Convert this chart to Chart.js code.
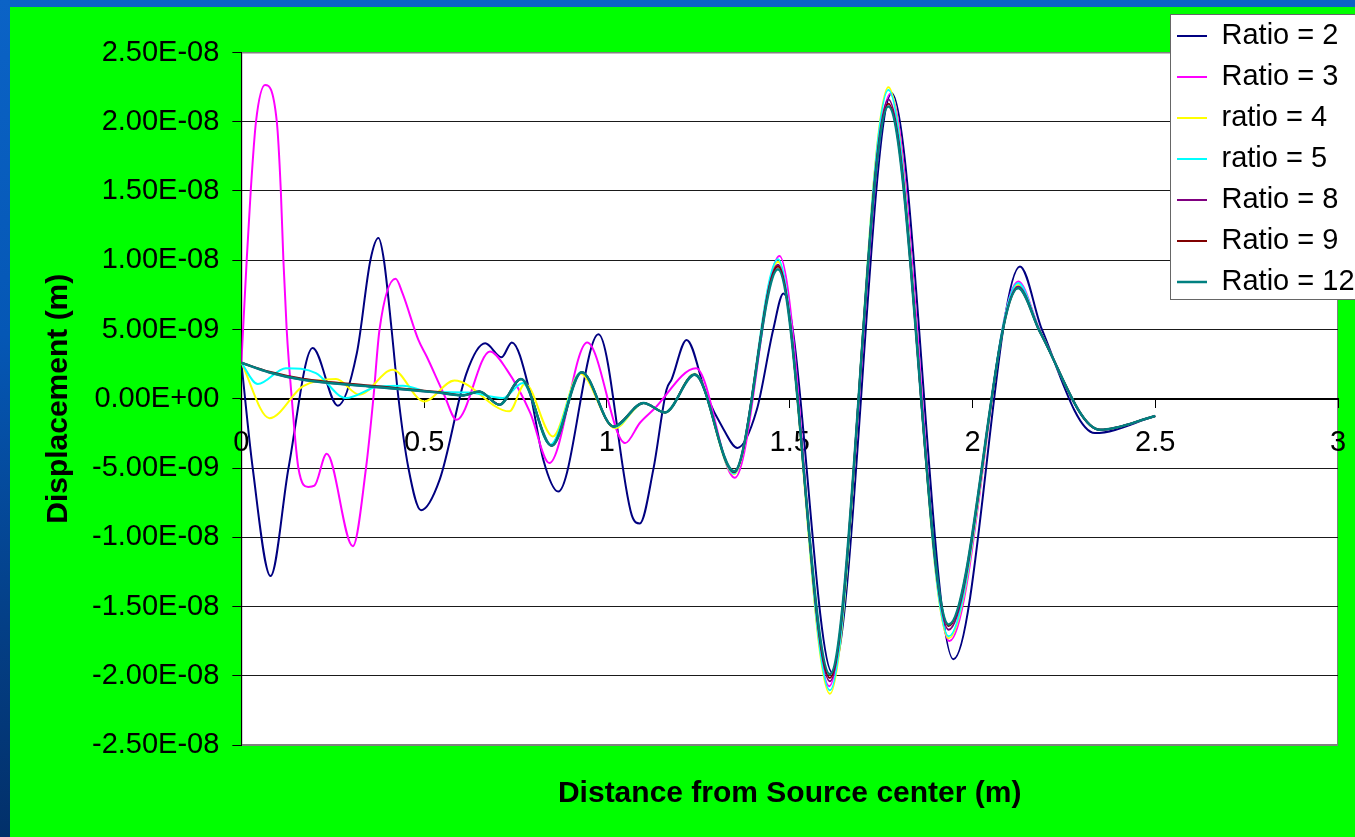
<!DOCTYPE html>
<html>
<head>
<meta charset="utf-8">
<title>Displacement vs distance from source center</title>
<style>
  html, body {
    margin: 0; padding: 0; width: 1355px; height: 837px; overflow: hidden;
    background: linear-gradient(180deg, #0b63c6 0%, #0557b5 40%, #043f86 75%, #02306a 100%);
  }
  #panel { position: absolute; left: 10px; top: 7px; width: 1345px; height: 830px; background: #00ff00; }
  canvas { display: block; }
</style>
<script src="https://cdn.jsdelivr.net/npm/chart.js@4/dist/chart.umd.min.js"></script>
</head>
<body>
<div id="panel"><canvas id="chart" width="1345" height="830"></canvas></div>
<script>
// Displacement values are in nanometres (1e-9 m); x is distance in metres.
const seriesNames = ['Ratio = 2', 'Ratio = 3', 'ratio = 4', 'ratio = 5', 'Ratio = 8', 'Ratio = 9', 'Ratio = 12'];
const seriesColors = ['#000080', '#ff00ff', '#ffff00', '#00ffff', '#800080', '#800000', '#008080'];

const xRatio2 = [0, 0.031, 0.08, 0.129, 0.195, 0.264, 0.316, 0.353, 0.375, 0.39, 0.411, 0.43, 0.457, 0.4915, 0.543, 0.616, 0.667, 0.712, 0.74, 0.79, 0.826, 0.867, 0.977, 1.068, 1.09, 1.127, 1.163, 1.177, 1.218, 1.273, 1.319, 1.357, 1.41, 1.455, 1.483, 1.617, 1.779, 1.948, 2.13, 2.19, 2.335, 2.5];
const yRatio2 = [2.6, -5.0, -12.8, -5.0, 3.66, -0.5, 3.3, 10.0, 11.6, 10.0, 5.0, 0, -5.0, -8.05, -5.8, 1.85, 4.0, 3.0, 4.07, 0.4, -4.4, -6.7, 4.65, -8.4, -9.0, -5.1, 0.65, 1.4, 4.25, 0.2, -2.2, -3.55, -0.8, 5.0, 7.6, -19.8, 22.05, -18.8, 9.55, 5.0, -2.48, -1.25];

const xRatio3 = [0, 0.0146, 0.0256, 0.04, 0.065, 0.097, 0.108, 0.115, 0.124, 0.138, 0.156, 0.183, 0.2, 0.2335, 0.305, 0.341, 0.361, 0.378, 0.422, 0.441, 0.484, 0.507, 0.553, 0.589, 0.68, 0.726, 0.79, 0.8425, 0.946, 1.05, 1.09, 1.127, 1.244, 1.35, 1.472, 1.608, 1.775, 1.937, 2.125, 2.185, 2.349, 2.5];
const yRatio3 = [2.6, 10, 15, 20, 22.65, 20, 15, 10, 5, 0, -5, -6.37, -6.28, -3.97, -10.65, -5.0, 0, 5.0, 8.66, 7.6, 4.26, 3.05, 0.4, -1.52, 3.41, 2.1, -1.0, -4.64, 4.06, -3.2, -1.75, -0.8, 2.2, -5.7, 10.3, -20.75, 22.0, -17.5, 8.46, 4.9, -2.24, -1.25];

const xRatio4 = [0, 0.077, 0.168, 0.259, 0.323, 0.414, 0.5, 0.583, 0.733, 0.776, 0.852, 0.926, 1.022, 1.1, 1.159, 1.24, 1.348, 1.468, 1.61, 1.77, 1.935, 2.125, 2.185, 2.349, 2.5];
const yRatio4 = [2.6, -1.4, 0.89, 1.42, 0.29, 2.09, -0.19, 1.32, -0.91, 1.08, -2.72, 1.85, -2.12, -0.3, -0.99, 1.8, -5.45, 9.9, -21.3, 22.5, -17.3, 8.25, 4.85, -2.24, -1.25];

const xRatio5 = [0, 0.045, 0.122, 0.204, 0.286, 0.378, 0.442, 0.514, 0.622, 0.715, 0.77, 0.845, 0.93, 1.02, 1.1, 1.159, 1.24, 1.348, 1.468, 1.61, 1.77, 1.935, 2.125, 2.185, 2.349, 2.5];
const yRatio5 = [2.6, 1.06, 2.21, 1.85, 0.05, 0.9, 0.94, 0.5, 0.45, 0.05, 1.13, -3.32, 1.93, -2.05, -0.3, -0.99, 1.78, -5.4, 10.07, -21.05, 22.3, -17.15, 8.35, 4.85, -2.24, -1.25];

// Ratios 8, 9 and 12 are sampled at the same distances.
const xHighRatio = [0, 0.077, 0.168, 0.35, 0.533, 0.608, 0.651, 0.706, 0.765, 0.849, 0.931, 1.018, 1.1, 1.159, 1.24, 1.348, 1.468, 1.61, 1.77, 1.935, 2.125, 2.185, 2.349, 2.5];
const yRatio8  = [2.6, 1.9, 1.37, 0.89, 0.46, 0.24, 0.53, -0.43, 1.42, -3.39, 1.92, -2.0, -0.31, -0.99, 1.75, -5.3, 9.67, -20.4, 21.6, -16.67, 8.1, 4.82, -2.24, -1.25];
const yRatio9  = [2.6, 1.95, 1.45, 0.95, 0.5, 0.26, 0.53, -0.43, 1.42, -3.39, 1.92, -2.0, -0.31, -0.99, 1.75, -5.28, 9.55, -20.15, 21.3, -16.4, 8.0, 4.8, -2.24, -1.25];
const yRatio12 = [2.6, 1.9, 1.37, 0.89, 0.46, 0.24, 0.53, -0.43, 1.42, -3.39, 1.92, -2.0, -0.31, -0.99, 1.73, -5.24, 9.35, -19.9, 21.1, -16.3, 7.99, 4.8, -2.24, -1.25];

const seriesX = [xRatio2, xRatio3, xRatio4, xRatio5, xHighRatio, xHighRatio, xHighRatio];
const seriesY = [yRatio2, yRatio3, yRatio4, yRatio5, yRatio8, yRatio9, yRatio12];

const xTickStep = 0.5;
const yTickStep = 5e-9;

const FONT = '"Liberation Sans", Arial, Helvetica, sans-serif';

// "2.50E-08" style labels for the displacement axis
function sci(v) {
  if (Math.abs(v) < 1e-20) return '0.00E+00';
  const parts = v.toExponential(2).split('e');
  const n = parseInt(parts[1], 10);
  return parts[0] + 'E' + (n < 0 ? '-' : '+') + String(Math.abs(n)).padStart(2, '0');
}

// White plot area with a grey frame
const plotFrame = {
  id: 'plotFrame',
  beforeDraw(chart) {
    const { ctx, chartArea: a } = chart;
    ctx.save();
    ctx.fillStyle = '#ffffff';
    ctx.fillRect(a.left, a.top, a.width, a.height);
    ctx.strokeStyle = '#808080';
    ctx.lineWidth = 1;
    ctx.strokeRect(a.left + 0.5, a.top + 0.5, a.width - 1, a.height - 1);
    ctx.restore();
  }
};

// Legend floats in the top-right corner inside a white box, above the lines
const LEGEND_BOX = { left: 1160, top: 7, right: 1360, bottom: 292 };
const floatingLegend = {
  id: 'floatingLegend',
  beforeLayout(chart) {
    const lg = chart.legend;
    if (!lg || lg._floatLayer) return;
    lg._floatLayer = true;
    lg._layers = () => [{
      z: 1,
      draw() {
        const ctx = chart.ctx;
        ctx.save();
        ctx.fillStyle = '#ffffff';
        ctx.fillRect(LEGEND_BOX.left, LEGEND_BOX.top, LEGEND_BOX.right - LEGEND_BOX.left, LEGEND_BOX.bottom - LEGEND_BOX.top);
        ctx.strokeStyle = '#666666';
        ctx.lineWidth = 1;
        ctx.strokeRect(LEGEND_BOX.left + 0.5, LEGEND_BOX.top + 0.5, LEGEND_BOX.right - LEGEND_BOX.left, LEGEND_BOX.bottom - LEGEND_BOX.top);
        ctx.restore();
        lg.draw();
      }
    }];
  },
  afterLayout(chart) {
    const lg = chart.legend;
    if (!lg) return;
    lg.left = 1155; lg.top = 2.5; lg.right = 1345; lg.bottom = 340;
    lg.width = lg.right - lg.left; lg.height = lg.bottom - lg.top;
  }
};

const datasets = seriesNames.map((name, i) => ({
  label: name,
  data: seriesX[i].map((x, j) => ({ x: x, y: seriesY[i][j] * 1e-9 })),
  borderColor: seriesColors[i],
  backgroundColor: seriesColors[i],
  borderWidth: i === 6 ? 2.5 : 2,
  pointRadius: 0,
  fill: false,
  cubicInterpolationMode: 'monotone',
  order: seriesNames.length - 1 - i
}));

new Chart(document.getElementById('chart'), {
  type: 'line',
  data: { datasets: datasets },
  plugins: [plotFrame, floatingLegend],
  options: {
    responsive: false,
    devicePixelRatio: 1,
    animation: false,
    events: [],
    layout: { padding: { left: 8, right: 17, top: 45.5, bottom: 25 } },
    scales: {
      x: {
        type: 'linear',
        min: 0, max: 3,
        position: { y: 0 },
        ticks: {
          stepSize: xTickStep, color: '#000', font: { size: 29, family: FONT },
          padding: 19, maxRotation: 0, autoSkip: false,
          callback: (v) => String(v)
        },
        grid: { drawOnChartArea: false, drawTicks: true, tickLength: 8, color: '#000', lineWidth: 1 },
        border: { display: true, color: '#000', width: 2 },
        // the axis sits on the zero line, so it takes no room at the bottom
        afterFit(scale) { scale.height = 0; scale.paddingLeft = 0; scale.paddingRight = 0; }
      },
      y: {
        type: 'linear',
        min: -2.5e-8, max: 2.5e-8,
        ticks: { stepSize: yTickStep, color: '#000', font: { size: 29, family: FONT }, padding: 13, callback: (v) => sci(v) },
        grid: {
          color: (c) => (c.index === 0 || c.index === 10) ? '#808080' : '#1a1a1a',
          lineWidth: 1, tickLength: 9, tickColor: '#000', drawTicks: true
        },
        border: { display: true, color: '#000', width: 1 },
        title: {
          display: true, text: 'Displacement (m)', color: '#000',
          font: { size: 30, weight: 'bold', family: FONT },
          padding: { top: 23, bottom: 2 }
        }
      }
    },
    plugins: {
      legend: {
        display: true,
        position: 'chartArea',
        align: 'start',
        labels: {
          boxWidth: 30, boxHeight: 0, padding: 12, color: '#000',
          font: { size: 29, family: FONT },
          sort: (a, b) => a.datasetIndex - b.datasetIndex
        }
      },
      title: {
        display: true,
        position: 'bottom',
        fullSize: false,
        text: 'Distance from Source center (m)',
        color: '#000',
        font: { size: 30, weight: 'bold', family: FONT },
        padding: { top: 31, bottom: 0 }
      },
      tooltip: { enabled: false }
    }
  }
});
</script>
</body>
</html>
